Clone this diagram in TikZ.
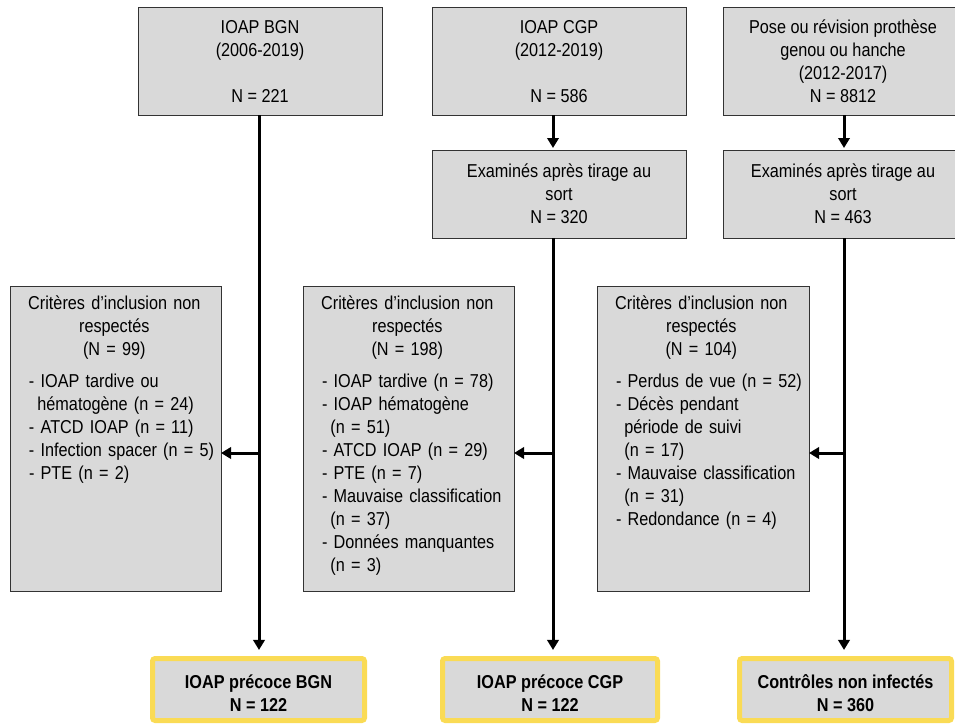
\documentclass[tikz,border=0pt]{standalone}
\usepackage{fontspec}
\setmainfont{Liberation Sans}[FakeStretch=0.87]
\usetikzlibrary{arrows.meta,calc}
\definecolor{boxgray}{HTML}{D9D9D9}
\definecolor{goldy}{HTML}{FADB55}
\newcommand{\hdl}[1]{\makebox[128pt][c]{#1}}
\tikzset{
  basebox/.style={draw=black!80, fill=boxgray, line width=0.75pt, inner sep=0pt, outer sep=0pt, rectangle},
  topbox/.style={basebox, align=center, font=\fontsize{14}{17.25}\selectfont},
  critbox/.style={basebox, minimum width=158.25pt, minimum height=228.75pt},
  crittext/.style={inner sep=0pt, outer sep=0pt, text width=140pt, align=left, anchor=north west, font=\fontsize{14}{17.25}\selectfont},
  finbox/.style={draw=goldy, fill=boxgray, line width=3.75pt, rounded corners=2pt, inner sep=0pt, outer sep=0pt, minimum height=46.5pt},
  fintext/.style={inner sep=0pt, align=center, font=\fontsize{14}{17.25}\selectfont\bfseries},
  arr/.style={line width=2.25pt, -{Triangle[length=7.5pt,width=8.5pt]}}
}
\begin{document}
\begin{tikzpicture}[x=0.75pt,y=-0.75pt]
\useasboundingbox (0,0) rectangle (955,724);
\clip (0,0) rectangle (955,724);
% top boxes
\node[topbox, minimum width=183pt, minimum height=80.25pt] (B1) at (260,61.5) {IOAP BGN\\(2006-2019)\\[17.25pt]N = 221};
\node[topbox, minimum width=190.5pt, minimum height=80.25pt] (B2) at (559,61.5) {IOAP CGP\\(2012-2019)\\[17.25pt]N = 586};
\node[topbox, minimum width=180pt, minimum height=80.25pt] (B3) at (843,61.5) {Pose ou révision prothèse\\genou ou hanche\\(2012-2017)\\N = 8812};
% examined boxes
\node[topbox, minimum width=190.5pt, minimum height=66pt] (E2) at (559,194) {Examinés après tirage au\\sort\\N = 320};
\node[topbox, minimum width=180pt, minimum height=66pt] (E3) at (843,194) {Examinés après tirage au\\sort\\N = 463};
% criteria boxes
\node[critbox] (C1) at (115.5,438.5) {};
\node[critbox] (C2) at (408.5,438.5) {};
\node[critbox, minimum width=159pt] (C3) at (703,438.5) {};
\node[crittext] (C1t) at ($(C1.north west)+(19,10)$) {\hdl{Critères d’inclusion non}\\\hdl{respectés}\\\hdl{(N = 99)}\\[6.75pt]
- IOAP tardive ou\\\hspace*{0.45em}hématogène (n = 24)\\- ATCD IOAP (n = 11)\\- Infection spacer (n = 5)\\- PTE (n = 2)};
\node[crittext] (C2t) at ($(C2.north west)+(19,10)$) {\hdl{Critères d’inclusion non}\\\hdl{respectés}\\\hdl{(N = 198)}\\[6.75pt]
- IOAP tardive (n = 78)\\- IOAP hématogène\\\hspace*{0.45em}(n = 51)\\- ATCD IOAP (n = 29)\\- PTE (n = 7)\\- Mauvaise classification\\\hspace*{0.45em}(n = 37)\\- Données manquantes\\\hspace*{0.45em}(n = 3)};
\node[crittext] (C3t) at ($(C3.north west)+(19,10)$) {\hdl{Critères d’inclusion non}\\\hdl{respectés}\\\hdl{(N = 104)}\\[6.75pt]
- Perdus de vue (n = 52)\\- Décès pendant\\\hspace*{0.45em}période de suivi\\\hspace*{0.45em}(n = 17)\\- Mauvaise classification\\\hspace*{0.45em}(n = 31)\\- Redondance (n = 4)};
% final boxes
\node[finbox, minimum width=159pt] (F1) at (258.5,689.5) {};
\node[finbox, minimum width=161.25pt] (F2) at (550,689.5) {};
\node[finbox, minimum width=159pt] (F3) at (845.5,689.5) {};
\node[fintext] (F1t) at ($(F1.center)+(0,4)$) {IOAP précoce BGN\\N = 122};
\node[fintext] (F2t) at ($(F2.center)+(0,4)$) {IOAP précoce CGP\\N = 122};
\node[fintext] (F3t) at ($(F3.center)+(0,4)$) {Contrôles non infectés\\N = 360};
% line positions
\coordinate (L1) at (259,0);
\coordinate (L2) at (553,0);
\coordinate (L3) at (844,0);
\coordinate (H1) at (259,453);
\coordinate (H2) at (553,453);
\coordinate (H3) at (844,453);
% connectors
\draw[arr, shorten >=1.5pt] (L2 |- B2.south) -- (L2 |- E2.north);
\draw[arr, shorten >=1.5pt] (L3 |- B3.south) -- (L3 |- E3.north);
\draw[arr, shorten >=6.4pt] (L1 |- B1.south) -- (L1 |- F1.north);
\draw[arr, shorten >=6.4pt] (L2 |- E2.south) -- (L2 |- F2.north);
\draw[arr, shorten >=6.4pt] (L3 |- E3.south) -- (L3 |- F3.north);
\draw[arr] (H1) -- (H1 -| C1.east);
\draw[arr] (H2) -- (H2 -| C2.east);
\draw[arr] (H3) -- (H3 -| C3.east);
\end{tikzpicture}
\end{document}
